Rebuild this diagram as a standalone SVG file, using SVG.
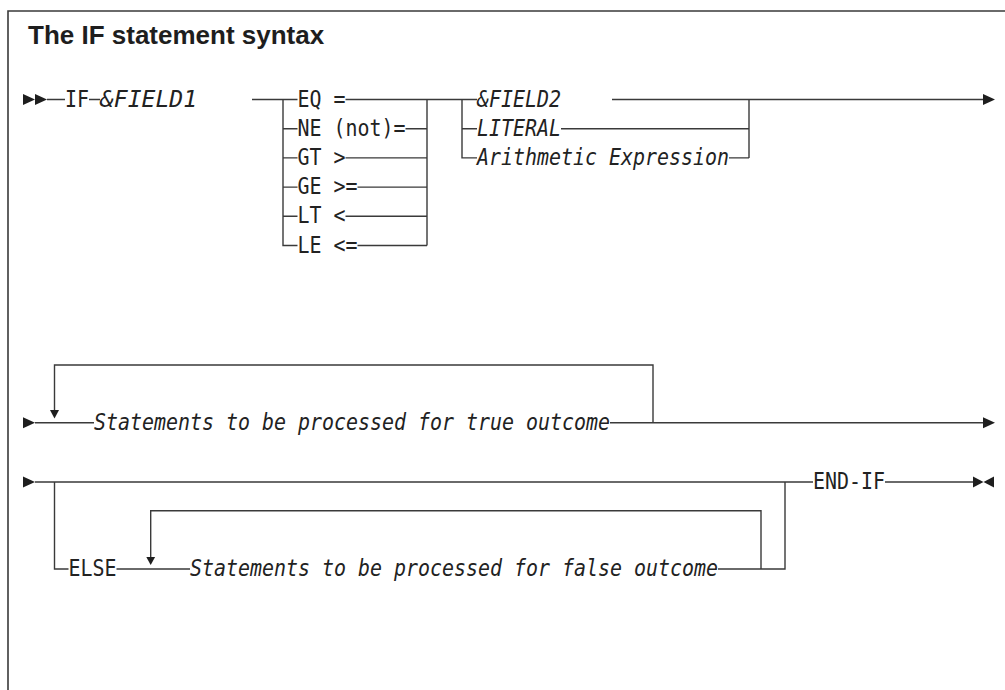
<svg xmlns="http://www.w3.org/2000/svg" width="1005" height="690" viewBox="0 0 1005 690">
<style>
.frame{fill:none;stroke:#3a3a3a;stroke-width:1.6}
.ln{fill:none;stroke:#3a3a3a;stroke-width:1.4}
.ah{fill:#1e1e1e;stroke:none}
.title{font-family:"Liberation Sans",Arial,sans-serif;font-weight:bold;font-size:26px;fill:#1e1e1e}
.kw{font-family:"DejaVu Sans Mono","Liberation Mono",monospace;font-size:23px;fill:#222}
.var{font-family:"DejaVu Sans Mono","Liberation Mono",monospace;font-size:23px;font-style:italic;fill:#222}
</style>
<rect x="0" y="0" width="1005" height="690" fill="#fff"/>
<path class="frame" d="M8,690 V11 H1005"/>
<text class="title" x="28" y="44">The IF statement syntax</text>

<g id="connectors">
  <!-- row 1 -->
  <path class="ln" d="M47,99.5 H65 M89,99.5 H100 M252,99.5 H297.5"/>
  <path class="ln" d="M283,99.5 V245.5 H297.5 M283,128.7 H297.5 M283,157.9 H297.5 M283,187.1 H297.5 M283,216.3 H297.5"/>
  <path class="ln" d="M345.5,99.5 H477 M405.5,128.7 H427 M345.5,157.9 H427 M357.5,187.1 H427 M345.5,216.3 H427 M357.5,245.5 H427 M427,99.5 V245.5"/>
  <path class="ln" d="M462,99.5 V157.9 H477 M462,128.7 H477"/>
  <path class="ln" d="M561,128.7 H749 M729,157.9 H749 M749,99.5 V157.9 M612,99.5 H984"/>
  <polygon class="ah" points="23,94 35,99.5 23,105"/>
  <polygon class="ah" points="35,94 47,99.5 35,105"/>
  <polygon class="ah" points="983,94 995,99.5 983,105"/>
  <!-- row 2 -->
  <path class="ln" d="M35,422.7 H94 M610,422.7 H983 M54.5,410 V365 H653 V422.7"/>
  <polygon class="ah" points="23,417.2 35,422.7 23,428.2"/>
  <polygon class="ah" points="983,417.2 995,422.7 983,428.2"/>
  <polygon class="ah" points="50,410 59,410 54.5,418.5"/>
  <!-- row 3 -->
  <path class="ln" d="M35,482 H813 M885,482 H974 M785,482 V569 H718"/>
  <path class="ln" d="M54.5,482 V569 H68.5 M116.5,569 H190 M150.7,557 V510.7 H761 V569"/>
  <polygon class="ah" points="23,476.5 35,482 23,487.5"/>
  <polygon class="ah" points="973,476.5 983.5,482 973,487.5"/>
  <polygon class="ah" points="994,476.5 983.5,482 994,487.5"/>
  <polygon class="ah" points="146.3,557 155.1,557 150.7,565"/>
</g>

<g id="node-if"><text class="kw" x="65" y="106.5" textLength="24" lengthAdjust="spacingAndGlyphs">IF</text></g>
<g id="node-field1"><text class="var" x="100" y="106.5" textLength="97" lengthAdjust="spacingAndGlyphs">&amp;FIELD1</text></g>
<g id="node-eq"><text class="kw" x="297.5" y="106.5" textLength="48" lengthAdjust="spacingAndGlyphs" xml:space="preserve">EQ =</text></g>
<g id="node-ne"><text class="kw" x="297.5" y="135.7" textLength="108" lengthAdjust="spacingAndGlyphs" xml:space="preserve">NE (not)=</text></g>
<g id="node-gt"><text class="kw" x="297.5" y="164.9" textLength="48" lengthAdjust="spacingAndGlyphs" xml:space="preserve">GT &gt;</text></g>
<g id="node-ge"><text class="kw" x="297.5" y="194.1" textLength="60" lengthAdjust="spacingAndGlyphs" xml:space="preserve">GE &gt;=</text></g>
<g id="node-lt"><text class="kw" x="297.5" y="223.3" textLength="48" lengthAdjust="spacingAndGlyphs" xml:space="preserve">LT &lt;</text></g>
<g id="node-le"><text class="kw" x="297.5" y="252.5" textLength="60" lengthAdjust="spacingAndGlyphs" xml:space="preserve">LE &lt;=</text></g>
<g id="node-field2"><text class="var" x="477" y="106.5" textLength="84" lengthAdjust="spacingAndGlyphs">&amp;FIELD2</text></g>
<g id="node-literal"><text class="var" x="477" y="135.7" textLength="84" lengthAdjust="spacingAndGlyphs">LITERAL</text></g>
<g id="node-arith"><text class="var" x="477" y="164.9" textLength="252" lengthAdjust="spacingAndGlyphs">Arithmetic Expression</text></g>
<g id="node-true"><text class="var" x="94" y="429.7" textLength="516" lengthAdjust="spacingAndGlyphs">Statements to be processed for true outcome</text></g>
<g id="node-else"><text class="kw" x="68.5" y="576" textLength="48" lengthAdjust="spacingAndGlyphs">ELSE</text></g>
<g id="node-false"><text class="var" x="190" y="576" textLength="528" lengthAdjust="spacingAndGlyphs">Statements to be processed for false outcome</text></g>
<g id="node-endif"><text class="kw" x="813" y="489" textLength="72" lengthAdjust="spacingAndGlyphs">END-IF</text></g>
</svg>
